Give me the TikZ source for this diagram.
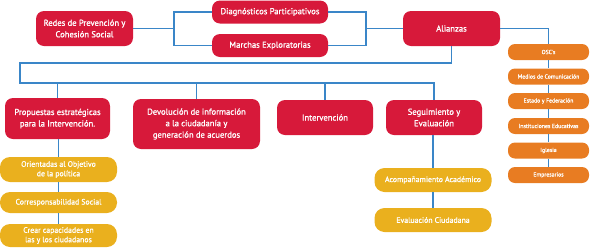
\documentclass[tikz,border=0pt]{standalone}
\usepackage{fontspec}
\setmainfont{PT Sans}
\newfontfamily\semib{PT Sans}[FakeBold=1.2]
\usepackage{tikz}
\usetikzlibrary{positioning,calc}

\definecolor{redbox}{RGB}{215,25,58}
\definecolor{yellowbox}{RGB}{234,176,30}
\definecolor{orangebox}{RGB}{232,124,34}
\definecolor{linkblue}{RGB}{58,134,200}

\begin{document}
\begin{tikzpicture}[
        x=1pt, y=-1pt,
        mainbox/.style={
            rectangle, fill=redbox, text=white, draw=none,
            rounded corners=8pt, align=center, inner sep=2pt,
            font=\semib\fontsize{8.6}{11.5}\selectfont
          },
        subbox/.style={
            rectangle, fill=yellowbox, text=white, draw=none,
            rounded corners=10pt, align=center, inner sep=1pt,
            minimum width=117pt, font=\semib\fontsize{7.8}{9.5}\selectfont
          },
        actorbox/.style={
            rectangle, fill=orangebox, text=white, draw=none,
            rounded corners=7pt, align=center, inner sep=1pt,
            minimum width=81pt, minimum height=16pt,
            font=\semib\fontsize{5.8}{6.5}\selectfont
          },
        link/.style={draw=linkblue, line width=1.5pt},
      ]
      \useasboundingbox (0,0) rectangle (590,247);

      % Top row
      \node [mainbox, minimum width=97pt, minimum height=35pt] (redes) at (84.5, 28.5) {Redes de Prevención y\\Cohesión Social};
      \node [mainbox, minimum width=116pt, minimum height=23pt] (diag) at (270, 12) {Diagnósticos Participativos};
      \node [mainbox, minimum width=116pt, minimum height=23pt] (marchas) at (270, 45.5) {Marchas Exploratorias};
      \node [mainbox, minimum width=97pt, minimum height=35pt] (alianzas) at (451.5, 28.5) {Alianzas};

      % Second row
      \node [mainbox, minimum width=105pt, minimum height=41pt] (propuestas) at (57.5, 118.5) {Propuestas estratégicas\\para la Intervención.};
      \node [mainbox, minimum width=127pt, minimum height=50pt] (devolucion) at (196.5, 124) {Devolución de información\\a la ciudadanía y\\generación de acuerdos};
      \node [mainbox, minimum width=96pt, minimum height=35pt] (intervencion) at (325, 117.5) {Intervención};
      \node [mainbox, minimum width=96pt, minimum height=35pt] (seguimiento) at (434, 117.5) {Seguimiento y\\Evaluación};

      % Lines of action
      \node [subbox, minimum height=25pt] (orientadas) at (58.5, 169.5) {Orientadas al Objetivo\\de la política};
      \node [subbox, minimum height=21pt] (corresp) at (58.5, 202.5) {Corresponsabilidad Social};
      \node [subbox, minimum height=23pt] (crear) at (58.5, 235.5) {Crear capacidades en\\las y los ciudadanos};
      \node [subbox, minimum height=24pt] (acomp) at (433, 180) {Acompañamiento Académico};
      \node [subbox, minimum height=24pt] (evaluacion) at (433, 220) {Evaluación Ciudadana};

      % Allies
      \node [actorbox] (osc) at (548.5, 52) {OSC's};
      \node [actorbox] (medios) at (548.5, 76.5) {Medios de Comunicación};
      \node [actorbox] (estado) at (548.5, 101) {Estado y Federación};
      \node [actorbox] (inst) at (548.5, 126) {Instituciones Educativas};
      \node [actorbox] (iglesia) at (548.5, 150.5) {Iglesia};
      \node [actorbox] (empresarios) at (548.5, 175) {Empresarios};

      % Connectors
      \draw [link] (redes.east) -- ++(41,0) coordinate (lj) |- (diag.west);
      \draw [link] (lj) |- (marchas.west);
      \draw [link] (alianzas.west) -- ++(-37,0) coordinate (rj) |- (diag.east);
      \draw [link] (rj) |- (marchas.east);
      \draw [link] (alianzas.east) -| (osc.north);

      \coordinate (bartop) at (20, 63);
      \coordinate (bar) at (20, 83);
      \draw [link] (alianzas.south) |- (bartop) -- (bar) -| (seguimiento.north);
      \foreach \n in {propuestas, devolucion, intervencion}
        \draw [link] (\n.north) -- (\n.north |- bar);

      \foreach \a/\b in {propuestas/orientadas, orientadas/corresp, corresp/crear,
                         seguimiento/acomp, acomp/evaluacion,
                         osc/medios, medios/estado, estado/inst, inst/iglesia, iglesia/empresarios}
        \draw [link] (\a.south -| \b.north) -- (\b.north);
    \end{tikzpicture}
\end{document}
